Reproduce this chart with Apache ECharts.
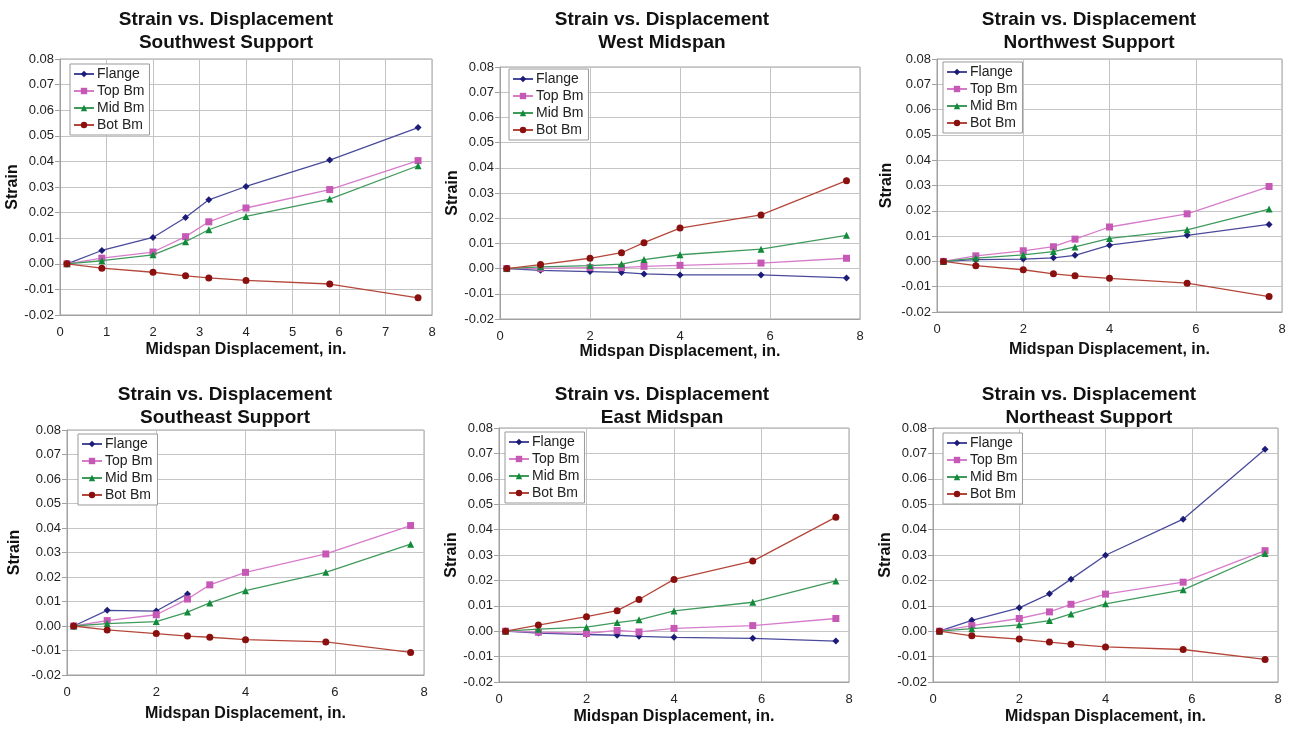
<!DOCTYPE html>
<html>
<head>
<meta charset="utf-8">
<script src="https://cdn.jsdelivr.net/npm/echarts@6/dist/echarts.min.js"></script>
<style>
  html, body { margin: 0; padding: 0; background: #fff; }
  #main { width: 1292px; height: 730px; }
</style>
</head>
<body>
<div id="main"></div>
<script>
// displacement readings (in.), same for every gauge location
const xDisp = [0.15, 0.9, 2.0, 2.7, 3.2, 4.0, 5.8, 7.7];

const seriesNames = ['Flange', 'Top Bm', 'Mid Bm', 'Bot Bm'];

const panelTitles = [
    'Southwest Support', 'West Midspan', 'Northwest Support',
    'Southeast Support', 'East Midspan', 'Northeast Support'
];

const yTicks = [-0.02, -0.01, 0.00, 0.01, 0.02, 0.03, 0.04, 0.05, 0.06, 0.07, 0.08];

// Southwest Support
const swFlange = [0, 0.0052, 0.0103, 0.0181, 0.0250, 0.0302, 0.0405, 0.0532];
const swTop    = [0, 0.0022, 0.0046, 0.0106, 0.0164, 0.0218, 0.0290, 0.0403];
const swMid    = [0, 0.0012, 0.0035, 0.0086, 0.0133, 0.0185, 0.0253, 0.0383];
const swBot    = [0, -0.0017, -0.0033, -0.0047, -0.0055, -0.0065, -0.0079, -0.0133];

// West Midspan
const wmFlange = [0, -0.0007, -0.0012, -0.0015, -0.0021, -0.0025, -0.0025, -0.0037];
const wmTop    = [0, 0.0001, 0.0004, 0.0004, 0.0009, 0.0013, 0.0022, 0.0041];
const wmMid    = [0, 0.0007, 0.0012, 0.0018, 0.0036, 0.0055, 0.0077, 0.0132];
const wmBot    = [0, 0.0016, 0.0041, 0.0063, 0.0103, 0.0161, 0.0213, 0.0349];

// Northwest Support
const nwFlange = [0, 0.0007, 0.0009, 0.0014, 0.0024, 0.0064, 0.0103, 0.0146];
const nwTop    = [0, 0.0022, 0.0042, 0.0058, 0.0088, 0.0136, 0.0188, 0.0296];
const nwMid    = [0, 0.0013, 0.0026, 0.0039, 0.0057, 0.0091, 0.0125, 0.0207];
const nwBot    = [0, -0.0017, -0.0033, -0.0049, -0.0057, -0.0067, -0.0086, -0.0139];

// Southeast Support (flange gauge lost after 2.7 in.)
const seFlange = [0, 0.0064, 0.0061, 0.0131];
const seTop    = [0, 0.0022, 0.0046, 0.0110, 0.0168, 0.0219, 0.0294, 0.0410];
const seMid    = [0, 0.0010, 0.0018, 0.0057, 0.0094, 0.0144, 0.0219, 0.0334];
const seBot    = [0, -0.0016, -0.0031, -0.0041, -0.0046, -0.0056, -0.0065, -0.0108];

// East Midspan
const emFlange = [0, -0.0007, -0.0013, -0.0016, -0.0020, -0.0024, -0.0028, -0.0039];
const emTop    = [0, -0.0004, -0.0009, 0.0003, -0.0003, 0.0011, 0.0022, 0.0050];
const emMid    = [0, 0.0008, 0.0016, 0.0034, 0.0045, 0.0080, 0.0114, 0.0198];
const emBot    = [0, 0.0024, 0.0057, 0.0081, 0.0125, 0.0204, 0.0276, 0.0449];

// Northeast Support
const neFlange = [0, 0.0043, 0.0092, 0.0147, 0.0205, 0.0299, 0.0441, 0.0716];
const neTop    = [0, 0.0022, 0.0050, 0.0076, 0.0106, 0.0146, 0.0193, 0.0317];
const neMid    = [0, 0.0010, 0.0025, 0.0042, 0.0068, 0.0108, 0.0163, 0.0306];
const neBot    = [0, -0.0018, -0.0031, -0.0043, -0.0051, -0.0062, -0.0072, -0.0111];

const panelData = [
    [swFlange, swTop, swMid, swBot],
    [wmFlange, wmTop, wmMid, wmBot],
    [nwFlange, nwTop, nwMid, nwBot],
    [seFlange, seTop, seMid, seBot],
    [emFlange, emTop, emMid, emBot],
    [neFlange, neTop, neMid, neBot]
];

// layout of each panel
const panels = [
    { grid: [60, 59, 372, 256],  xStep: 1, title: [221, 3],   legend: [70, 64],  xGap: 27, yGap: 38 },
    { grid: [500, 67, 360, 252], xStep: 2, title: [657, 3],   legend: [509, 69], xGap: 23, yGap: 34 },
    { grid: [937, 59, 345, 253], xStep: 2, title: [1084, 3],  legend: [943, 62], xGap: 30, yGap: 42 },
    { grid: [67, 430, 357, 245], xStep: 2, title: [220, 378], legend: [78, 434], xGap: 31, yGap: 44 },
    { grid: [499, 428, 350, 254], xStep: 2, title: [657, 378], legend: [505, 432], xGap: 27, yGap: 33 },
    { grid: [933, 428, 345, 254], xStep: 2, title: [1084, 378], legend: [943, 433], xGap: 27, yGap: 38 }
];

const styles = {
    'Flange': { symbol: 'diamond',  size: 7, line: '#4a4a9c', mark: '#1c1c78' },
    'Top Bm': { symbol: 'rect',     size: 7, line: '#d77ccb', mark: '#c659b5' },
    'Mid Bm': { symbol: 'triangle', size: 7, line: '#3f9a5c', mark: '#118a3a' },
    'Bot Bm': { symbol: 'circle',   size: 7, line: '#b5473a', mark: '#8a1010' }
};

const FONT = '"Liberation Sans", Arial, sans-serif';

var option = {
    backgroundColor: '#fff',
    animation: false,
    title: [], grid: [], xAxis: [], yAxis: [], legend: [], series: []
};

panels.forEach(function (p, i) {
    option.title.push({
        text: 'Strain vs. Displacement\n' + panelTitles[i],
        left: p.title[0], top: p.title[1],
        textAlign: 'center',
        textStyle: { fontFamily: FONT, fontSize: 19, fontWeight: 'bold', color: '#111', lineHeight: 23 }
    });
    option.grid.push({
        left: p.grid[0], top: p.grid[1], width: p.grid[2], height: p.grid[3],
        show: true, borderColor: '#a0a0a0', borderWidth: 1, backgroundColor: '#fff'
    });
    option.xAxis.push({
        type: 'value', gridIndex: i, min: 0, max: 8, interval: p.xStep,
        name: 'Midspan Displacement, in.', nameLocation: 'middle', nameGap: p.xGap,
        nameTextStyle: { fontFamily: FONT, fontSize: 16, fontWeight: 'bold', color: '#111' },
        axisLine: { show: true, onZero: false, lineStyle: { color: '#a0a0a0' } },
        axisTick: { show: false },
        axisLabel: { fontFamily: FONT, fontSize: 13, color: '#222', margin: 11 },
        splitLine: { show: true, lineStyle: { color: '#c4c4c4', width: 1 } }
    });
    option.yAxis.push({
        type: 'value', gridIndex: i, min: yTicks[0], max: yTicks[yTicks.length - 1], interval: 0.01,
        name: 'Strain', nameLocation: 'middle', nameGap: p.yGap, nameRotate: 90,
        nameTextStyle: { fontFamily: FONT, fontSize: 16, fontWeight: 'bold', color: '#111' },
        axisLine: { show: true, lineStyle: { color: '#a0a0a0' } },
        axisTick: { show: true, length: 5, lineStyle: { color: '#a0a0a0' } },
        axisLabel: {
            fontFamily: FONT, fontSize: 13, color: '#222', margin: 6,
            formatter: function (v) { return v.toFixed(2); }
        },
        splitLine: { show: true, lineStyle: { color: '#c4c4c4', width: 1 } }
    });
    option.legend.push({
        data: seriesNames,
        orient: 'vertical',
        left: p.legend[0], top: p.legend[1],
        itemWidth: 20, itemHeight: 8, itemGap: 3,
        padding: [3, 5, 3, 3],
        borderColor: '#999', borderWidth: 1, backgroundColor: '#fff',
        textStyle: { fontFamily: FONT, fontSize: 14, color: '#222', padding: [0, 0, 0, -2] },
        selectedMode: false
    });
    seriesNames.forEach(function (name, k) {
        const st = styles[name];
        const vals = panelData[i][k];
        option.series.push({
            name: name, type: 'line',
            xAxisIndex: i, yAxisIndex: i,
            data: vals.map(function (v, j) { return [xDisp[j], v]; }),
            symbol: st.symbol, symbolSize: st.size,
            lineStyle: { color: st.line, width: 1.3 },
            itemStyle: { color: st.mark },
            z: 3 + k
        });
    });
});

var myecharts = echarts.init(document.getElementById('main'), null, { renderer: 'canvas' });
myecharts.setOption(option);
</script>
</body>
</html>
